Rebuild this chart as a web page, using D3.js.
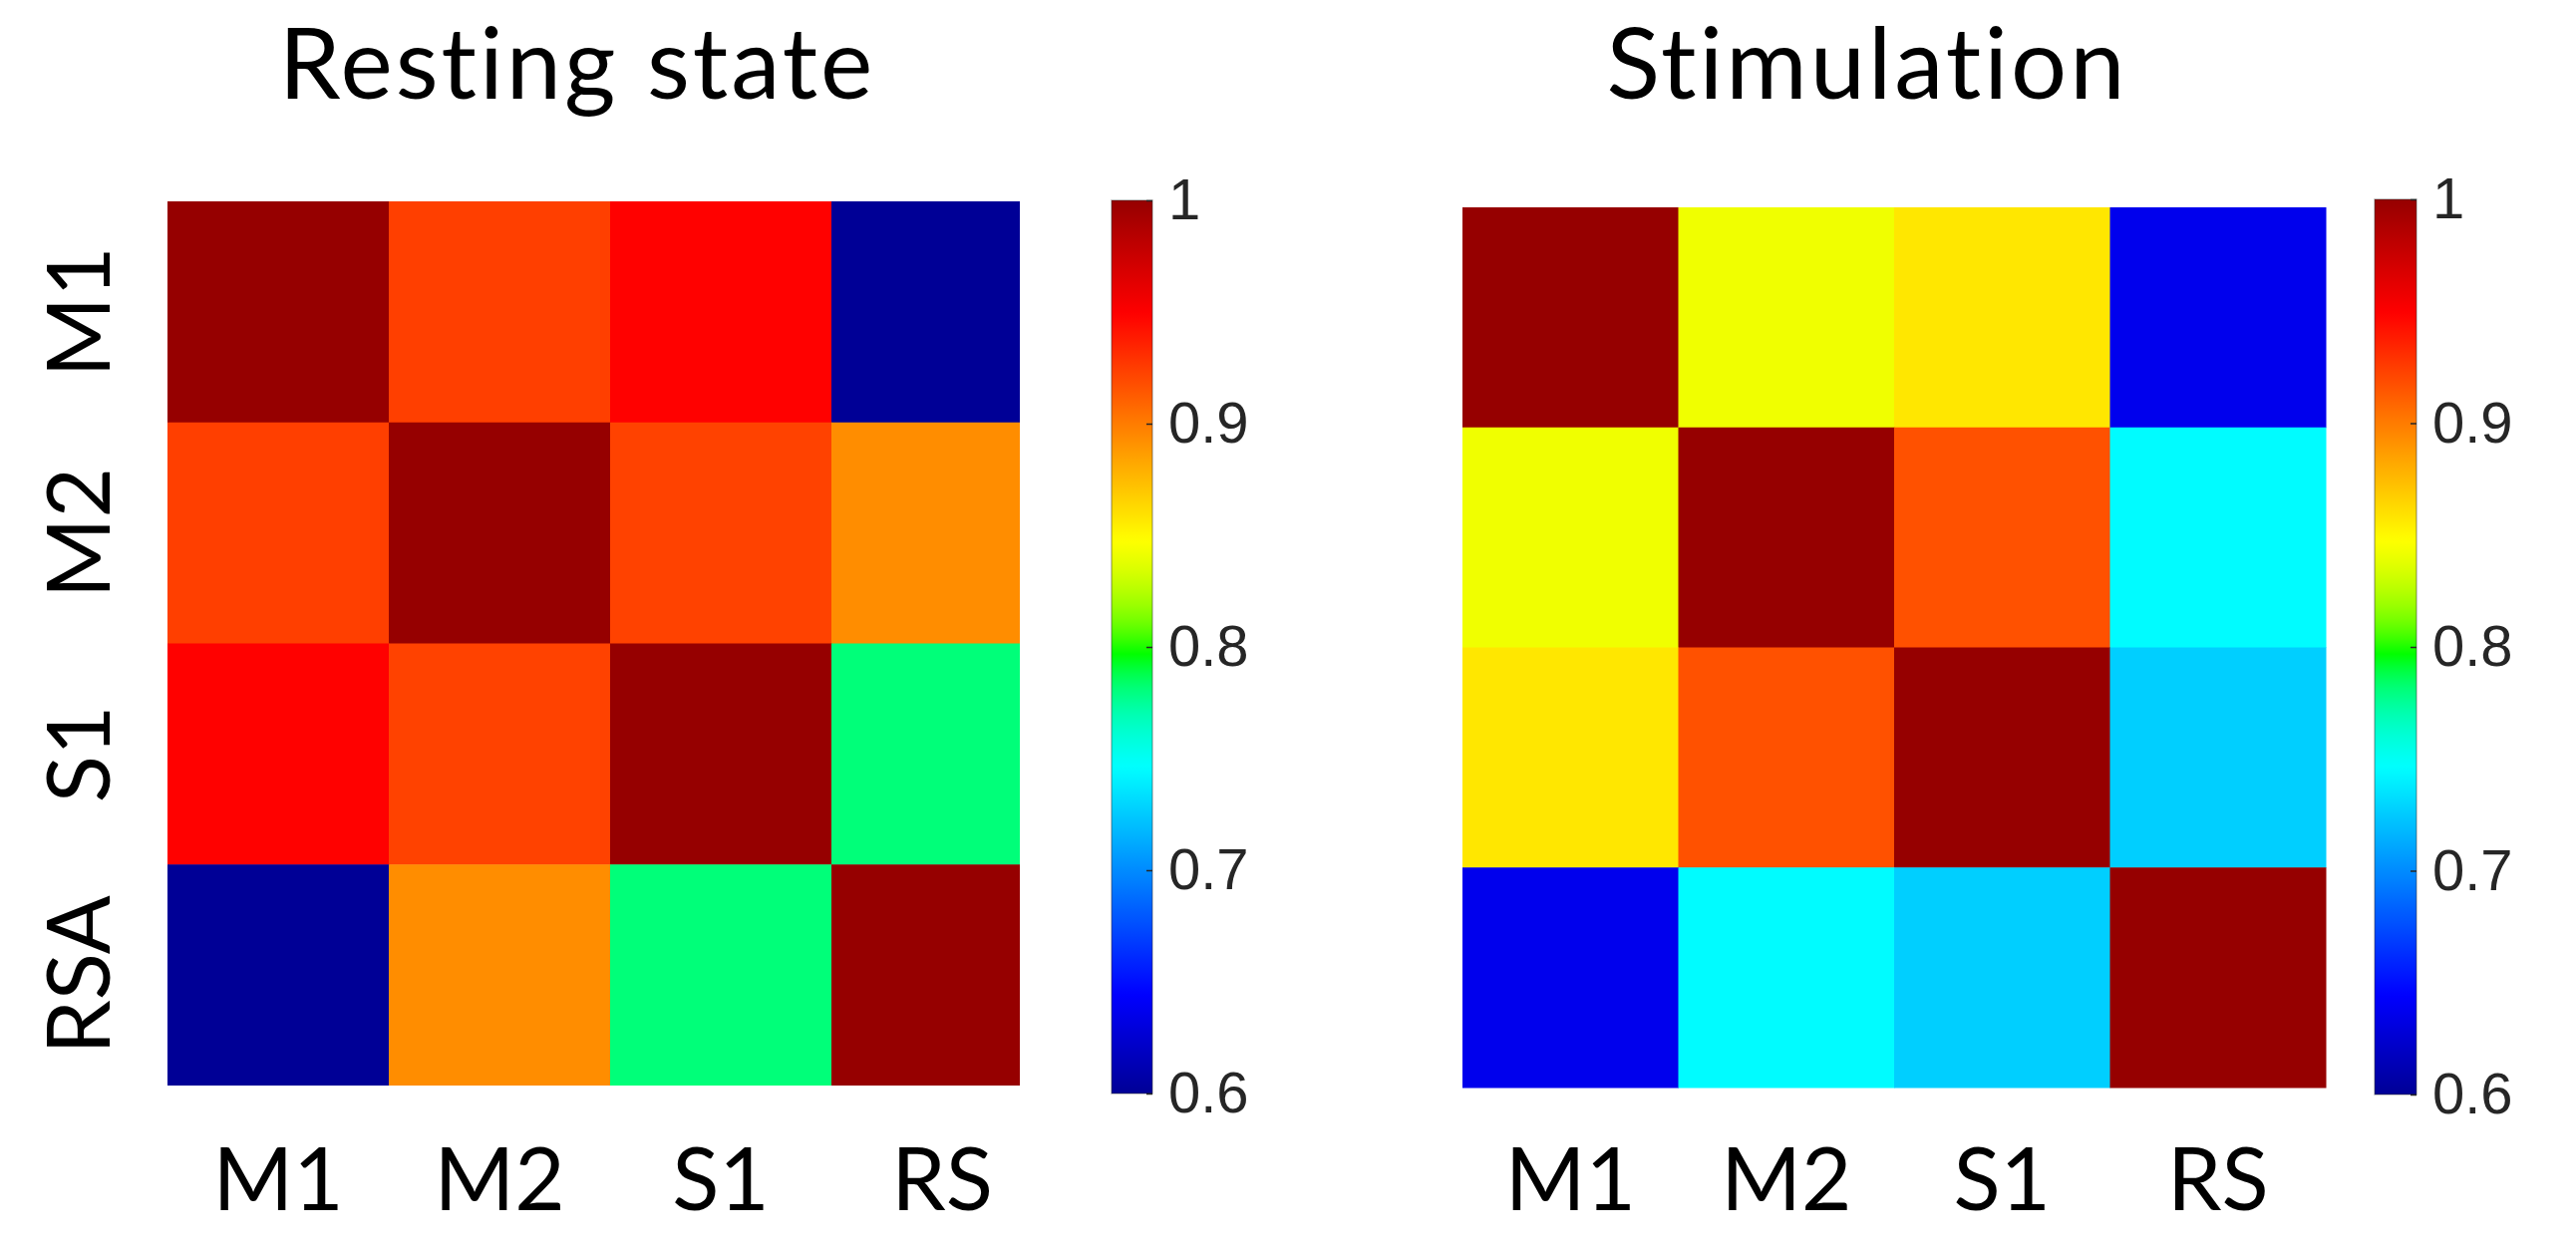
<!DOCTYPE html>
<html>
<head>
<meta charset="utf-8">
<script src="https://cdn.jsdelivr.net/npm/d3@7"></script>
<style>
  html, body { margin: 0; padding: 0; background: #fff; }
  svg { display: block; }
</style>
</head>
<body>
<div id="chart"></div>
<script>
// data
var rowLabels = ["M1", "M2", "S1", "RSA"];
var colLabels = ["M1", "M2", "S1", "RS"];
var titles = ["Resting state", "Stimulation"];

var restValues = [
  [1.000, 0.924, 0.949, 0.600],
  [0.924, 1.000, 0.923, 0.893],
  [0.949, 0.923, 1.000, 0.781],
  [0.600, 0.893, 0.781, 1.000]
];
var stimValues = [
  [1.000, 0.842, 0.857, 0.637],
  [0.842, 1.000, 0.917, 0.745],
  [0.857, 0.917, 1.000, 0.727],
  [0.637, 0.745, 0.727, 1.000]
];

var cbDomain = [0.6, 1];
var cbTicks = [0.6, 0.7, 0.8, 0.9, 1];

// jet-like colour map (anchor colours), strong saturation as in the picture
var jetT = [0, 7 / 63, 23 / 63, 39 / 63, 55 / 63, 1];
var jetC = ["#000096", "#0000ff", "#00ffff", "#ffff00", "#ff0000", "#960000"];

var W = 2584, H = 1256;
var labelFont = "Lato, 'Open Sans', sans-serif";
var tickFont = "'Liberation Sans', Arial, sans-serif";

var jetLin = d3.scaleLinear()
  .domain(jetT.map(function(t) { return cbDomain[0] + t * (cbDomain[1] - cbDomain[0]); }))
  .range(jetC)
  .interpolate(d3.interpolateRgb)
  .clamp(true);

function colour(v) {
  var c = d3.rgb(jetLin(v));
  var mx = Math.max(c.r, c.g, c.b), mn = Math.min(c.r, c.g, c.b);
  if (mx === mn) return c.formatHex();
  var f = mx / (mx - mn);
  return d3.rgb((c.r - mn) * f, (c.g - mn) * f, (c.b - mn) * f).formatHex();
}

var svg = d3.select("#chart").append("svg").attr("width", W).attr("height", H);
var defs = svg.append("defs");

// colour bar gradient sampled from the colour function
var grad = defs.append("linearGradient").attr("id", "cbgrad")
  .attr("x1", 0).attr("y1", 1).attr("x2", 0).attr("y2", 0);
grad.selectAll("stop").data(d3.range(0, 129)).enter().append("stop")
  .attr("offset", function(i) { return (i / 128 * 100) + "%"; })
  .attr("stop-color", function(i) { return colour(cbDomain[0] + i / 128 * (cbDomain[1] - cbDomain[0])); });

var panels = [
  { title: titles[0], values: restValues, x: [168, 1056], y: [202, 1089], clipW: 855,
    titleX: 579, showY: true, cb: { x: 1115, w: 41, y: [201, 1097] } },
  { title: titles[1], values: stimValues, x: [1467, 2333], y: [208, 1091], clipW: null,
    titleX: 1873, showY: false, cb: { x: 2382, w: 42, y: [200, 1098] } }
];

panels.forEach(function(p, pi) {
  var g = svg.append("g");

  var x = d3.scaleBand().domain(colLabels).range(p.x);
  var y = d3.scaleBand().domain(rowLabels).range(p.y);

  var cells = [];
  p.values.forEach(function(row, ri) {
    row.forEach(function(v, ci) {
      cells.push({ row: rowLabels[ri], col: colLabels[ci], v: v });
    });
  });

  var cellG = g.append("g");
  if (p.clipW) {
    defs.append("clipPath").attr("id", "clip" + pi)
      .append("rect").attr("x", p.x[0]).attr("y", p.y[0])
      .attr("width", p.clipW).attr("height", p.y[1] - p.y[0]);
    cellG.attr("clip-path", "url(#clip" + pi + ")");
  }

  cellG.selectAll("rect").data(cells).enter().append("rect")
    .attr("x", function(d) { return x(d.col); })
    .attr("y", function(d) { return y(d.row); })
    .attr("width", x.bandwidth() + 0.5)
    .attr("height", y.bandwidth() + 0.5)
    .attr("fill", function(d) { return colour(d.v); });

  // title
  g.append("text")
    .attr("x", p.titleX).attr("y", 99)
    .attr("text-anchor", "middle")
    .style("font-family", labelFont).style("font-size", "99px")
    .style("letter-spacing", "3px")
    .attr("fill", "#000")
    .text(p.title);

  // column labels
  g.selectAll(".xl").data(colLabels).enter().append("text")
    .attr("class", "xl")
    .attr("x", function(d) { return x(d) + x.bandwidth() / 2; })
    .attr("y", 1214)
    .attr("text-anchor", "middle")
    .style("font-family", labelFont).style("font-size", "87px")
    .attr("fill", "#000")
    .text(function(d) { return d; });

  // row labels
  if (p.showY) {
    g.selectAll(".yl").data(rowLabels).enter().append("text")
      .attr("class", "yl")
      .attr("transform", function(d) {
        return "translate(110," + (y(d) + y.bandwidth() / 2) + ") rotate(-90)";
      })
      .attr("text-anchor", "middle")
      .style("font-family", labelFont).style("font-size", "87px")
      .attr("fill", "#000")
      .text(function(d) { return d; });
  }

  // colour bar
  var cbScale = d3.scaleLinear().domain(cbDomain).range([p.cb.y[1], p.cb.y[0]]);
  g.append("rect")
    .attr("x", p.cb.x).attr("y", p.cb.y[0])
    .attr("width", p.cb.w).attr("height", p.cb.y[1] - p.cb.y[0])
    .attr("fill", "url(#cbgrad)")
    .attr("stroke", "#262626").attr("stroke-opacity", 0.35).attr("stroke-width", 1.5);

  var axis = d3.axisRight(cbScale)
    .tickValues(cbTicks)
    .tickFormat(d3.format("~g"))
    .tickSizeInner(-6).tickSizeOuter(0)
    .tickPadding(16);

  var ax = g.append("g")
    .attr("transform", "translate(" + (p.cb.x + p.cb.w) + ",0)")
    .call(axis);
  ax.select(".domain").remove();
  ax.selectAll("line").attr("stroke", "#262626").attr("stroke-width", 1.5);
  ax.selectAll("text")
    .style("font-family", tickFont).style("font-size", "58px")
    .attr("fill", "#262626");
});
</script>
</body>
</html>
